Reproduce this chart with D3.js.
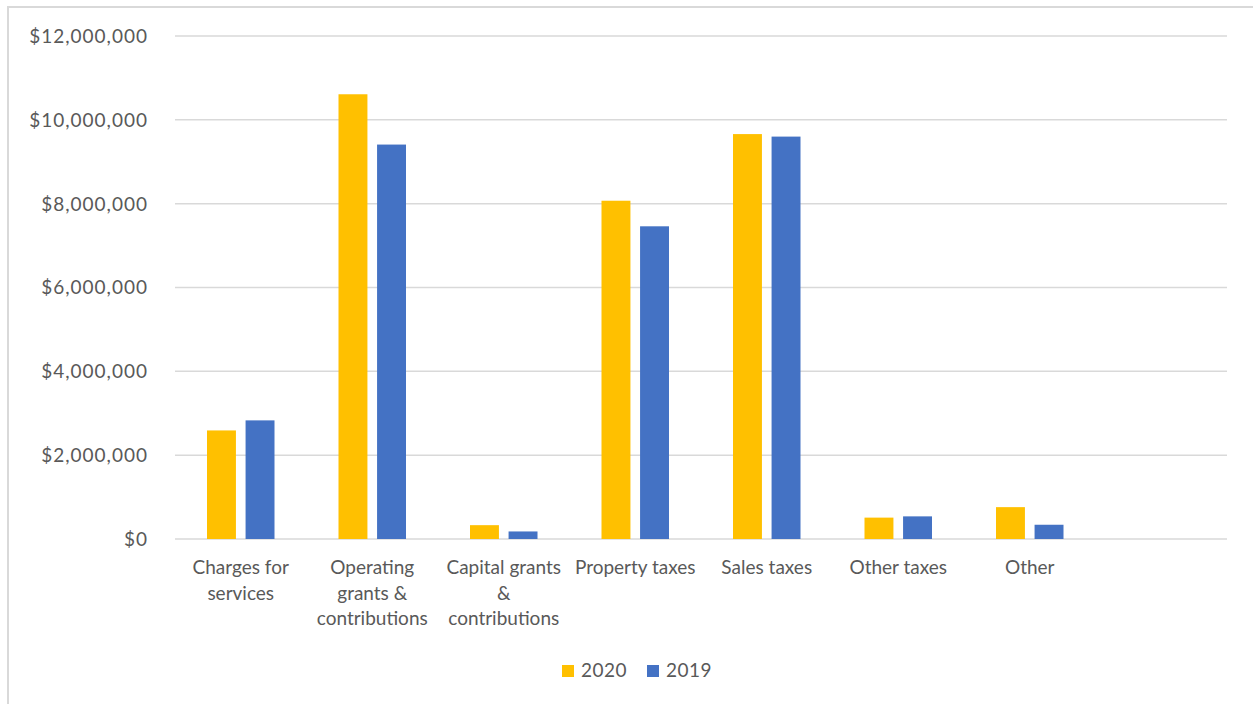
<!DOCTYPE html>
<html>
<head>
<meta charset="utf-8">
<script src="https://cdn.jsdelivr.net/npm/d3@7"></script>
<style>
  body { margin: 0; background: #fff; }
  svg { display: block; font-family: Lato, "Open Sans", sans-serif; }
</style>
</head>
<body>
<div id="chart"></div>
<script>
// categories (last one is an empty slot, as in the original sheet)
let categories = ["Charges for services", "Operating grants & contributions", "Capital grants & contributions",
                  "Property taxes", "Sales taxes", "Other taxes", "Other", ""];
let seriesNames = ["2020", "2019"];
let values2020 = [2590000, 10610000, 330000, 8070000, 9660000, 510000, 760000, null];
let values2019 = [2830000, 9410000, 180000, 7460000, 9600000, 540000, 340000, null];
let yTicks = [0, 2000000, 4000000, 6000000, 8000000, 10000000, 12000000];

let colors = {"2020": "#FFC000", "2019": "#4472C4"};
let textColor = "#595959";

let W = 1253, H = 704;
let plotLeft = 175, plotRight = 1227, plotTop = 36, plotBottom = 539;

let svg = d3.select("#chart").append("svg")
    .attr("width", W)
    .attr("height", H);

// outer chart border (only top/left visible in the crop)
svg.append("rect")
    .attr("x", 8).attr("y", 7)
    .attr("width", W + 20).attr("height", H + 20)
    .attr("fill", "#fff")
    .attr("stroke", "#d9d9d9")
    .attr("stroke-width", 2);

let x0 = d3.scaleBand().domain(d3.range(categories.length)).range([plotLeft, plotRight]);
let x1 = d3.scaleBand().domain(seriesNames)
    .range([32, x0.bandwidth() - 32])
    .paddingInner(0.25);
let y = d3.scaleLinear().domain([0, 12000000]).range([plotBottom, plotTop]);

let fmt = d3.format("$,");

// gridlines
svg.append("g").selectAll("line").data(yTicks).enter().append("line")
    .attr("x1", plotLeft).attr("x2", plotRight)
    .attr("y1", d => y(d)).attr("y2", d => y(d))
    .attr("stroke", "#d9d9d9")
    .attr("stroke-width", 1.5);

// y tick labels
svg.append("g").selectAll("text").data(yTicks).enter().append("text")
    .attr("x", 148)
    .attr("y", d => y(d))
    .attr("dy", "0.36em")
    .attr("text-anchor", "end")
    .attr("fill", textColor)
    .style("font-size", "19px")
    .style("letter-spacing", "1px")
    .text(d => fmt(d));

// bars
let rows = categories.map((c, i) => ({i: i, vals: [values2020[i], values2019[i]]}));
let groups = svg.append("g").selectAll("g").data(rows).enter().append("g")
    .attr("transform", d => "translate(" + x0(d.i) + ",0)");

groups.selectAll("rect")
    .data(d => seriesNames.map((s, k) => ({s: s, v: d.vals[k]})).filter(e => e.v != null))
    .enter().append("rect")
    .attr("x", d => x1(d.s))
    .attr("width", x1.bandwidth())
    .attr("y", d => y(d.v))
    .attr("height", d => y(0) - y(d.v))
    .attr("fill", d => colors[d.s]);

// category labels, wrapped to the band width
function wrapWords(text, maxW) {
    let words = text.split(" ");
    let lines = [];
    let cur = "";
    let probe = svg.append("text").style("font-size", "19px");
    words.forEach(w => {
        let test = cur ? cur + " " + w : w;
        probe.text(test);
        if (probe.node().getComputedTextLength() > maxW && cur) {
            lines.push(cur);
            cur = w;
        } else {
            cur = test;
        }
    });
    if (cur) lines.push(cur);
    probe.remove();
    return lines;
}

categories.forEach((c, i) => {
    if (!c) return;
    let lines = wrapWords(c, x0.bandwidth() - 4);
    let t = svg.append("text")
        .attr("text-anchor", "middle")
        .attr("fill", textColor)
        .style("font-size", "19px");
    lines.forEach((ln, k) => {
        t.append("tspan")
            .attr("x", x0(i) + x0.bandwidth() / 2)
            .attr("y", 574 + k * 25.5)
            .text(ln);
    });
});

// legend
let legendX = [562, 647];
let legend = svg.append("g");
seriesNames.forEach((s, k) => {
    legend.append("rect")
        .attr("x", legendX[k]).attr("y", 665)
        .attr("width", 12).attr("height", 12)
        .attr("fill", colors[s]);
    legend.append("text")
        .attr("x", legendX[k] + 19).attr("y", 677)
        .attr("fill", textColor)
        .style("font-size", "19px")
        .style("letter-spacing", "0.5px")
        .text(s);
});
</script>
</body>
</html>
